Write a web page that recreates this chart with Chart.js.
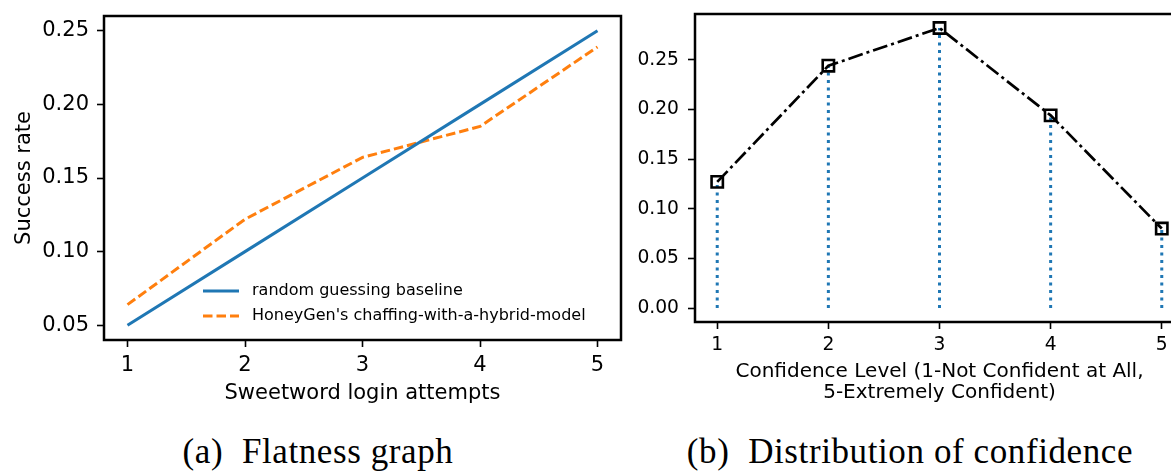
<!DOCTYPE html>
<html>
<head>
<meta charset="utf-8">
<script src="https://cdn.jsdelivr.net/npm/chart.js@4.4.1/dist/chart.umd.min.js"></script>
<style>
  html, body { margin: 0; padding: 0; background: #fff; }
  body { width: 1171px; height: 471px; overflow: hidden; position: relative; }
  .panel { position: absolute; top: 0; }
  #left { left: 0; }
  #right { left: 600px; }
  .cap {
    position: absolute; top: 432px; height: 40px; line-height: 40px;
    font-family: "Liberation Serif", "DejaVu Serif", serif; font-size: 35px;
    letter-spacing: 0.6px; color: #000; text-align: center; white-space: pre;
  }
</style>
</head>
<body>
<div class="panel" id="left"><canvas id="cvA" width="640" height="420"></canvas></div>
<div class="panel" id="right"><canvas id="cvB" width="600" height="420"></canvas></div>
<div class="cap" style="left:118px;width:400px;">(a)  Flatness graph</div>
<div class="cap" style="left:680px;width:460px;">(b)  Distribution of confidence</div>

<script>
/***** 데이터 *****/
// (a) flatness
const attempts = [1, 2, 3, 4, 5];
const baseline = [0.05, 0.10, 0.15, 0.20, 0.25];
const honeygen = [0.064, 0.122, 0.164, 0.185, 0.239];
const flatYTicks = [0.05, 0.10, 0.15, 0.20, 0.25];

// (b) confidence
const levels = [1, 2, 3, 4, 5];
const confShare = [0.127, 0.244, 0.282, 0.194, 0.080];
const confYTicks = [0.00, 0.05, 0.10, 0.15, 0.20, 0.25];

/***** 스타일 *****/
const BLUE = "#1f77b4";
const ORANGE = "#ff7f0e";
const FONT = "'DejaVu Sans', sans-serif";

/***** 플러그인 *****/
// matplotlib 스타일 박스 (4면 spine)
const frameBox = {
  id: "frameBox",
  afterDraw(chart){
    const { ctx, chartArea: a } = chart;
    ctx.save();
    ctx.strokeStyle = "#000";
    ctx.lineWidth = 2.5;
    ctx.strokeRect(a.left, a.top, a.right - a.left, a.bottom - a.top);
    ctx.restore();
  }
};

// 플롯 안쪽 범례
const insideLegend = {
  id: "insideLegend",
  afterDraw(chart, args, opts){
    if(!opts || !opts.show) return;
    const { ctx } = chart;
    ctx.save();
    ctx.font = opts.font;
    ctx.textBaseline = "middle";
    ctx.fillStyle = "#000";
    chart.data.datasets.forEach((ds, i) => {
      const y = opts.rows[i];
      ctx.beginPath();
      ctx.setLineDash(ds.borderDash || []);
      ctx.strokeStyle = ds.borderColor;
      ctx.lineWidth = ds.borderWidth;
      ctx.moveTo(opts.x0, y);
      ctx.lineTo(opts.x1, y);
      ctx.stroke();
      ctx.setLineDash([]);
      ctx.fillText(ds.label, opts.textX, y);
    });
    ctx.restore();
  }
};

function fixTicks(values){
  return (scale) => { scale.ticks = values.map(v => ({ value: v })); };
}

// 라벨 때문에 생기는 여백 제거 (플롯 영역 고정)
function fitTo(prop, size){
  return (s) => {
    s[prop] = size;
    s.paddingTop = 0; s.paddingBottom = 0; s.paddingLeft = 0; s.paddingRight = 0;
  };
}

function axisCommon(size, tickPad){
  return {
    border: { display: false },
    grid: { drawOnChartArea: false, drawTicks: true, tickLength: 7, tickWidth: 1.6, tickColor: "#000" },
    ticks: { color: "#000", font: { family: FONT, size }, padding: tickPad, maxRotation: 0, autoSkip: false }
  };
}

/***** (a) Flatness graph *****/
const xA = axisCommon(21, 6);
const yA = axisCommon(21, 8);
new Chart(byId("cvA"), {
  type: "line",
  data: {
    datasets: [
      {
        label: "random guessing baseline",
        data: attempts.map((x, i) => ({ x, y: baseline[i] })),
        borderColor: BLUE, borderWidth: 3, pointRadius: 0, tension: 0, fill: false
      },
      {
        label: "HoneyGen's chaffing-with-a-hybrid-model",
        data: attempts.map((x, i) => ({ x, y: honeygen[i] })),
        borderColor: ORANGE, borderWidth: 3, borderDash: [9.5, 4], pointRadius: 0, tension: 0, fill: false
      }
    ]
  },
  options: {
    responsive: false,
    animation: false,
    layout: { padding: { left: 0, top: 16, right: 19, bottom: 0 } },
    scales: {
      x: {
        type: "linear", min: 0.8, max: 5.2,
        ...xA,
        ticks: { ...xA.ticks, callback: v => String(v) },
        afterBuildTicks: fixTicks(attempts),
        afterFit: fitTo("height", 80),
        title: { display: true, text: "Sweetword login attempts", color: "#000",
                 font: { family: FONT, size: 21 }, padding: { top: 0, bottom: 14 } }
      },
      y: {
        type: "linear", min: 0.04, max: 0.26,
        ...yA,
        ticks: { ...yA.ticks, callback: v => v.toFixed(2) },
        afterBuildTicks: fixTicks(flatYTicks),
        afterFit: fitTo("width", 104),
        title: { display: true, text: "Success rate", color: "#000",
                 font: { family: FONT, size: 21 }, padding: { top: 12, bottom: 0 } }
      }
    },
    plugins: {
      legend: { display: false },
      tooltip: { enabled: false },
      insideLegend: { show: true, x0: 203, x1: 239, textX: 252, rows: [291, 316], font: "16px " + FONT }
    }
  },
  plugins: [frameBox, insideLegend]
});

/***** (b) Distribution of confidence *****/
// 점선 수직선: 0 ~ 값, 사이에 null 로 끊음
const stems = levels.flatMap((x, i) => [{ x, y: 0 }, { x, y: confShare[i] }, { x, y: null }]);
const xB = axisCommon(18.7, 5);
const yB = axisCommon(18.7, 9);
new Chart(byId("cvB"), {
  type: "line",
  data: {
    datasets: [
      {
        label: "confidence",
        data: levels.map((x, i) => ({ x, y: confShare[i] })),
        borderColor: "#000", borderWidth: 2.7, borderDash: [15, 4, 3, 4], tension: 0, fill: false,
        pointStyle: "rect", pointRadius: 8, pointBorderWidth: 2.6,
        pointBorderColor: "#000", pointBackgroundColor: "rgba(0,0,0,0)"
      },
      {
        label: "stems",
        data: stems,
        borderColor: BLUE, borderWidth: 3, borderDash: [3, 4.5], borderCapStyle: "butt",
        pointRadius: 0, spanGaps: false, tension: 0, fill: false
      }
    ]
  },
  options: {
    responsive: false,
    animation: false,
    layout: { padding: { left: 0, top: 14, right: 16, bottom: 0 } },
    scales: {
      x: {
        type: "linear", min: 0.8, max: 5.2,
        ...xB,
        ticks: { ...xB.ticks, callback: v => String(v) },
        afterBuildTicks: fixTicks(levels),
        afterFit: fitTo("height", 98),
        title: { display: true, text: ["Confidence Level (1-Not Confident at All,", "5-Extremely Confident)"],
                 color: "#000", font: { family: FONT, size: 20, lineHeight: 1.05 }, padding: { top: 0, bottom: 17 } }
      },
      y: {
        type: "linear", min: -0.0141, max: 0.2961,
        ...yB,
        ticks: { ...yB.ticks, callback: v => v.toFixed(2) },
        afterBuildTicks: fixTicks(confYTicks),
        afterFit: fitTo("width", 95)
      }
    },
    plugins: { legend: { display: false }, tooltip: { enabled: false } }
  },
  plugins: [frameBox]
});

function byId(id){ return document.getElementById(id); }
</script>
</body>
</html>
